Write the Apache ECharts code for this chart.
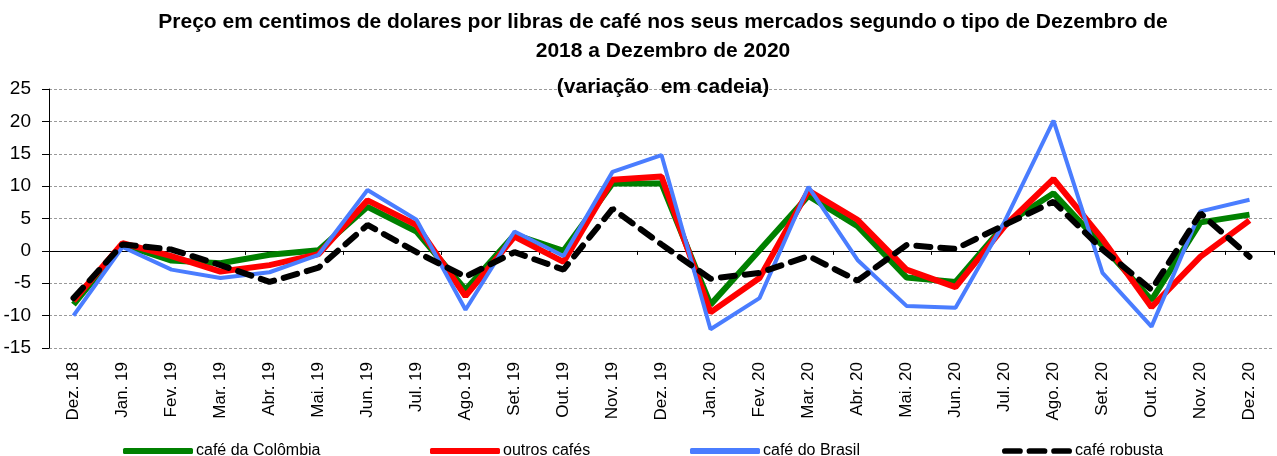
<!DOCTYPE html>
<html>
<head>
<meta charset="utf-8">
<script src="https://cdn.jsdelivr.net/npm/echarts@6/dist/echarts.min.js"></script>
<style>
    html, body { margin: 0; padding: 0; background: #fff; }
    #chart { width: 1277px; height: 456px; }
</style>
</head>
<body>
<div id="chart"></div>
<script>
const months = ['Dez. 18', 'Jan. 19', 'Fev. 19', 'Mar. 19', 'Abr. 19', 'Mai. 19', 'Jun. 19', 'Jul. 19',
    'Ago. 19', 'Set. 19', 'Out. 19', 'Nov. 19', 'Dez. 19', 'Jan. 20', 'Fev. 20', 'Mar. 20', 'Abr. 20',
    'Mai. 20', 'Jun. 20', 'Jul. 20', 'Ago. 20', 'Set. 20', 'Out. 20', 'Nov. 20', 'Dez. 20'];

const colombia = [-8.3, 1.0, -1.5, -1.9, -0.6, 0.1, 6.8, 3.0, -6.0, 2.5, 0.0, 10.4, 10.4, -8.3, 0.1, 8.5, 3.8, -4.1, -4.8, 4.0, 8.9, 0.8, -7.6, 4.4, 5.6];
const outros = [-7.7, 1.2, -0.8, -3.2, -2.2, -0.5, 7.8, 4.0, -7.0, 2.2, -1.7, 11.0, 11.5, -9.5, -4.2, 9.3, 4.8, -2.9, -5.6, 3.8, 11.1, 1.8, -8.7, -0.9, 4.7];
const brasil = [-10.0, 0.6, -2.9, -4.2, -3.3, -0.6, 9.4, 4.8, -9.1, 3.0, -0.8, 12.2, 14.8, -12.1, -7.3, 9.9, -1.4, -8.5, -8.8, 4.5, 20.1, -3.4, -11.7, 6.1, 7.9];
const robusta = [-7.3, 1.0, 0.2, -2.2, -4.8, -2.6, 4.0, -0.2, -4.0, -0.2, -2.9, 6.5, 1.0, -4.3, -3.4, -0.8, -4.6, 0.9, 0.3, 4.0, 7.6, 0.2, -6.0, 5.8, -0.9];

const yMin = -15, yMax = 25, yStep = 5;

const chart = echarts.init(document.getElementById('chart'));
const font = '"Liberation Sans", Arial, sans-serif';

// tracejado do café robusta na legenda
const dashIcon = 'path://M3,0h16a3,3 0 0 1 0,6h-16a3,3 0 0 1 0,-6z M29,0h16a3,3 0 0 1 0,6h-16a3,3 0 0 1 0,-6z M55,0h16a3,3 0 0 1 0,6h-16a3,3 0 0 1 0,-6z';

function legendAt(name, left, icon) {
    return {
        data: [{ name: name, icon: icon }],
        left: left,
        top: 443,
        padding: 0,
        itemWidth: 70,
        itemHeight: 6,
        itemGap: 0,
        textStyle: { fontFamily: font, fontSize: 16, color: '#000', padding: [0, 0, 0, -2] }
    };
}

const titleStyle = { fontFamily: font, fontSize: 21, fontWeight: 'bold', color: '#000' };

const option = {
    animation: false,
    title: [
        { text: 'Preço em centimos de dolares por libras de café nos seus mercados segundo o tipo de Dezembro de', left: 658, textAlign: 'center', top: 7, textStyle: titleStyle },
        { text: '2018 a Dezembro de 2020', left: 658, textAlign: 'center', top: 36, textStyle: titleStyle },
        { text: '(variação  em cadeia)', left: 658, textAlign: 'center', top: 72, textStyle: titleStyle }
    ],
    legend: [
        legendAt('café da Colômbia', 123, 'roundRect'),
        legendAt('outros cafés', 430, 'roundRect'),
        legendAt('café do Brasil', 690, 'roundRect'),
        legendAt('café robusta', 1002, dashIcon)
    ],
    grid: { left: 49, right: 3, top: 89, bottom: 108 },
    xAxis: [
        {
            type: 'category',
            data: months,
            position: 'bottom',
            axisLine: { show: false, onZero: false },
            axisTick: { show: false },
            axisLabel: { rotate: 90, interval: 0, margin: 14, fontFamily: font, fontSize: 17, color: '#000' }
        },
        {
            type: 'category',
            data: months,
            position: 'bottom',
            axisLine: { onZero: true, lineStyle: { color: '#000', width: 1 } },
            axisTick: { show: true, length: 4, lineStyle: { color: '#000' } },
            axisLabel: { show: false }
        }
    ],
    yAxis: {
        type: 'value',
        min: yMin,
        max: yMax,
        interval: yStep,
        axisLine: { show: true, lineStyle: { color: '#000' } },
        axisTick: { show: true, length: 7, lineStyle: { color: '#000' } },
        axisLabel: { margin: 18, fontFamily: font, fontSize: 19, color: '#000' },
        splitLine: { lineStyle: { color: '#9a9a9a', type: [3, 2], width: 1 } }
    },
    series: [
        { name: 'café da Colômbia', type: 'line', data: colombia, symbol: 'none',
          lineStyle: { color: '#008000', width: 6 }, itemStyle: { color: '#008000' } },
        { name: 'outros cafés', type: 'line', data: outros, symbol: 'none',
          lineStyle: { color: '#ff0000', width: 6 }, itemStyle: { color: '#ff0000' } },
        { name: 'café do Brasil', type: 'line', data: brasil, symbol: 'none',
          lineStyle: { color: '#4a7dff', width: 4 }, itemStyle: { color: '#4a7dff' } },
        { name: 'café robusta', type: 'line', data: robusta, symbol: 'none',
          lineStyle: { color: '#000', width: 6, type: [14, 10], cap: 'round' }, itemStyle: { color: '#000' } }
    ]
};

chart.setOption(option);
window.addEventListener('resize', function () {
    chart.resize();
});
</script>
</body>
</html>
